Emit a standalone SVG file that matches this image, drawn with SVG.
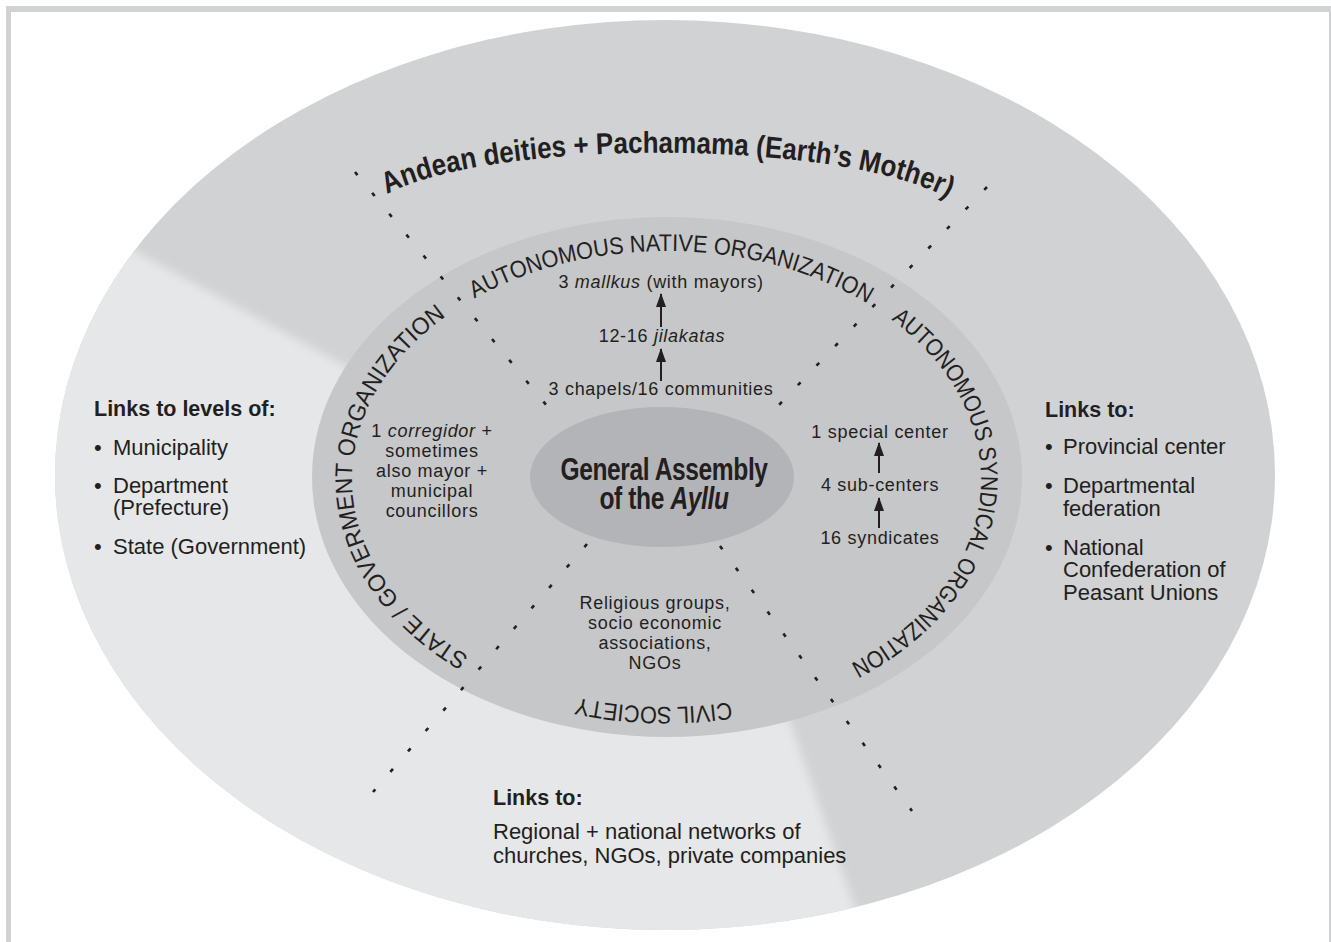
<svg xmlns="http://www.w3.org/2000/svg" width="1331" height="942" viewBox="0 0 1331 942">
  <defs>
    <style>
      text { font-family: "Liberation Sans", Arial, sans-serif; fill: #231f20; }
      .side { font-size: 22px; }
      .sideb { font-size: 21.5px; font-weight: bold; }
      .inner { font-size: 18px; letter-spacing: 0.7px; text-anchor: middle; }
      .arc { font-size: 24px; }
      .outerarc { font-size: 30px; font-weight: bold; }
      .dots { stroke: #231f20; stroke-width: 2.6; stroke-dasharray: 4 23; fill: none; }
      .arrow { stroke: #231f20; stroke-width: 2; fill: none; marker-end: url(#head); }
    </style>
    <marker id="head" viewBox="0 0 14 10" refX="13" refY="5" markerWidth="14" markerHeight="10" markerUnits="userSpaceOnUse" orient="auto">
      <path d="M0,0 L14,5 L0,10 z" fill="#231f20"/>
    </marker>
    <clipPath id="outerClip">
      <ellipse cx="665" cy="475" rx="610" ry="455"/>
    </clipPath>
    <filter id="soft" x="-20%" y="-20%" width="140%" height="140%">
      <feGaussianBlur stdDeviation="5"/>
    </filter>
    <path id="pOuter" d="M 380 198 C 480 137, 850 137, 955 202"/>
    <path id="pTop" d="M 352 479 A 314.5 228 0 0 1 981 479"/>
    <path id="pRight" d="M 666.5 251 A 314.5 228 0 0 1 666.5 707"/>
    <path id="pBottom" d="M 981 479 A 314.5 228 0 0 1 352 479"/>
    <path id="pLeft" d="M 666.5 707 A 314.5 228 0 0 1 666.5 251"/>
  </defs>

  <rect width="1331" height="942" fill="#ffffff"/>
  <g id="frame" fill="#d1d2d4">
    <rect x="6" y="6" width="1325" height="6"/>
    <rect x="6" y="6" width="5" height="936"/>
    <rect x="1329" y="6" width="2" height="936"/>
  </g>

  <g id="outer-ring">
    <ellipse cx="665" cy="475" rx="610" ry="455" fill="#d1d2d4"/>
    <g clip-path="url(#outerClip)">
      <polygon points="741,582 -100,123 -100,1100 922,1100" fill="#e6e7e8" filter="url(#soft)"/>
    </g>
  </g>

  <g id="deities-label">
    <text class="outerarc"><textPath href="#pOuter" startOffset="50%" text-anchor="middle" textLength="572" lengthAdjust="spacingAndGlyphs">Andean deities + Pachamama (Earth’s Mother)</textPath></text>
  </g>

  <g id="inner-ring">
    <ellipse cx="667" cy="477" rx="355" ry="260" fill="#c6c7c9"/>
  </g>

  <g id="center-node">
    <ellipse cx="662" cy="477" rx="132" ry="70" fill="#b3b4b7"/>
    <g transform="translate(664,0) scale(0.78,1)">
      <text x="0" y="480" font-size="31.5" font-weight="bold" text-anchor="middle" letter-spacing="-0.5">General Assembly</text>
      <text x="0" y="509" font-size="31.5" font-weight="bold" text-anchor="middle" letter-spacing="-0.5">of the <tspan font-style="italic">Ayllu</tspan></text>
    </g>
  </g>

  <g id="connectors">
    <line class="dots" x1="355" y1="172" x2="547" y2="406"/>
    <line class="dots" x1="987" y1="187" x2="777" y2="407"/>
    <line class="dots" x1="587" y1="544" x2="373" y2="792"/>
    <line class="dots" x1="720" y1="546" x2="912" y2="811"/>
    <line class="arrow" x1="661" y1="327" x2="661" y2="294"/>
    <line class="arrow" x1="661" y1="381" x2="661" y2="349"/>
    <line class="arrow" x1="879" y1="473" x2="879" y2="443"/>
    <line class="arrow" x1="879" y1="528" x2="879" y2="498"/>
  </g>

  <g id="native-org">
    <text class="arc"><textPath href="#pTop" startOffset="50.6%" text-anchor="middle" textLength="410" lengthAdjust="spacingAndGlyphs">AUTONOMOUS NATIVE ORGANIZATION</textPath></text>
    <text class="inner" x="661" y="288">3 <tspan font-style="italic">mallkus</tspan> (with mayors)</text>
    <text class="inner" x="662" y="342">12-16 <tspan font-style="italic">jilakatas</tspan></text>
    <text class="inner" x="661" y="395">3 chapels/16 communities</text>
  </g>

  <g id="syndical-org">
    <text class="arc"><textPath href="#pRight" startOffset="52.8%" text-anchor="middle" textLength="428" lengthAdjust="spacingAndGlyphs">AUTONOMOUS SYNDICAL ORGANIZATION</textPath></text>
    <text class="inner" x="880" y="438">1 special center</text>
    <text class="inner" x="880" y="491">4 sub-centers</text>
    <text class="inner" x="880" y="544">16 syndicates</text>
  </g>

  <g id="civil-society">
    <text class="arc"><textPath href="#pBottom" startOffset="51.5%" text-anchor="middle" textLength="155" lengthAdjust="spacingAndGlyphs">CIVIL SOCIETY</textPath></text>
    <text class="inner" x="655" y="609">Religious groups,</text>
    <text class="inner" x="655" y="629">socio economic</text>
    <text class="inner" x="655" y="649">associations,</text>
    <text class="inner" x="655" y="669">NGOs</text>
  </g>

  <g id="state-org">
    <text class="arc"><textPath href="#pLeft" startOffset="48.4%" text-anchor="middle" textLength="418" lengthAdjust="spacingAndGlyphs">STATE / GOVERMENT ORGANIZATION</textPath></text>
    <text class="inner" x="432" y="437">1 <tspan font-style="italic">corregidor</tspan> +</text>
    <text class="inner" x="432" y="457">sometimes</text>
    <text class="inner" x="432" y="477">also mayor +</text>
    <text class="inner" x="432" y="497">municipal</text>
    <text class="inner" x="432" y="517">councillors</text>
  </g>

  <g id="links-state">
    <text class="sideb" x="94" y="416">Links to levels of:</text>
    <text class="side" x="94" y="455">•</text><text class="side" x="113" y="455">Municipality</text>
    <text class="side" x="94" y="493">•</text><text class="side" x="113" y="493">Department</text>
    <text class="side" x="113" y="515">(Prefecture)</text>
    <text class="side" x="94" y="554">•</text><text class="side" x="113" y="554">State (Government)</text>
  </g>

  <g id="links-syndical">
    <text class="sideb" x="1045" y="417">Links to:</text>
    <text class="side" x="1045" y="454">•</text><text class="side" x="1063" y="454">Provincial center</text>
    <text class="side" x="1045" y="493">•</text><text class="side" x="1063" y="493">Departmental</text>
    <text class="side" x="1063" y="516">federation</text>
    <text class="side" x="1045" y="555">•</text><text class="side" x="1063" y="555">National</text>
    <text class="side" x="1063" y="577">Confederation of</text>
    <text class="side" x="1063" y="600">Peasant Unions</text>
  </g>

  <g id="links-civil">
    <text class="sideb" x="493" y="805">Links to:</text>
    <text class="side" x="493" y="839">Regional + national networks of</text>
    <text class="side" x="493" y="863">churches, NGOs, private companies</text>
  </g>
</svg>
